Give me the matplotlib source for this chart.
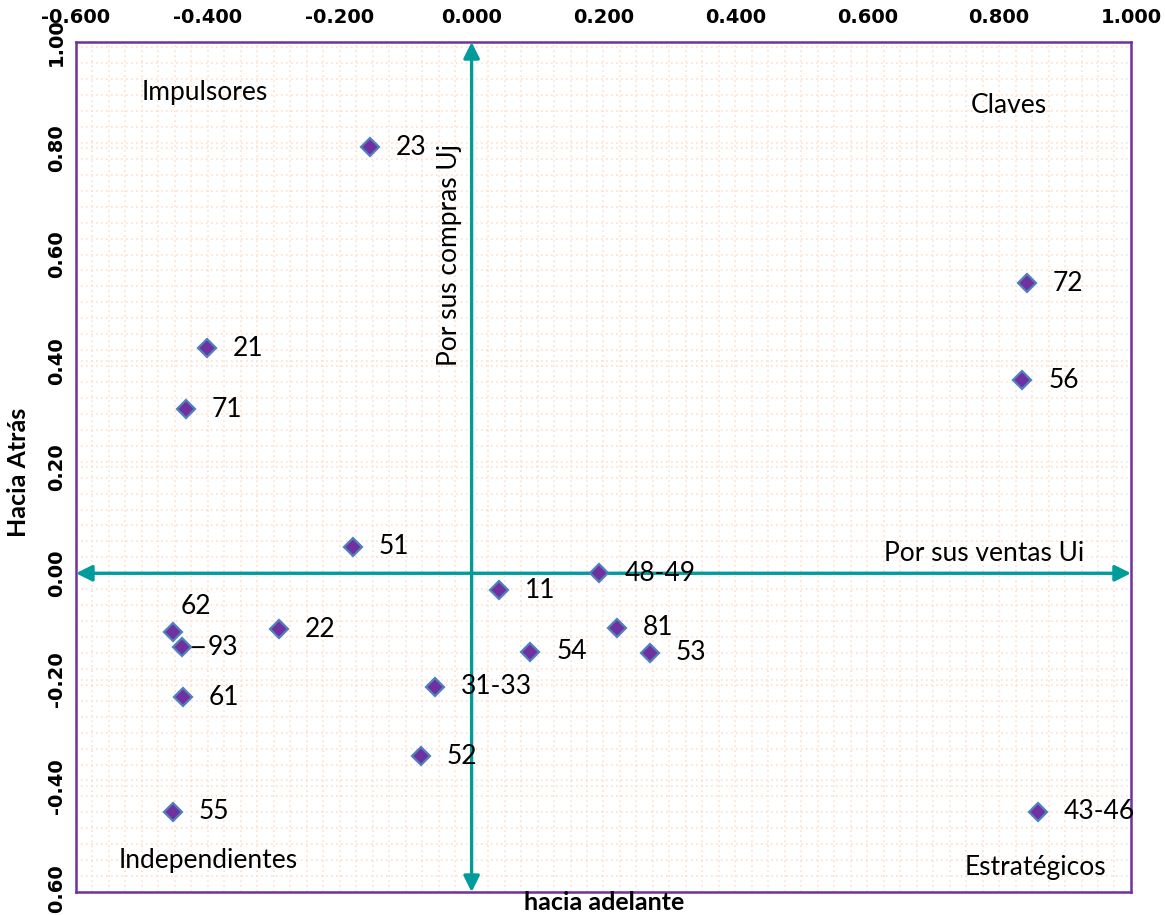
import numpy as np
import matplotlib.pyplot as plt
from matplotlib.ticker import MultipleLocator, FormatStrFormatter

# sectores: (impulso hacia adelante, impulso hacia atras)
sectores = ["23", "72", "56", "21", "71", "51", "48-49", "11", "62", "93",
            "22", "81", "54", "53", "31-33", "61", "52", "55", "43-46"]
x_vals = [-0.154, 0.842, 0.835, -0.401, -0.433, -0.180, 0.193, 0.042, -0.453, -0.439,
          -0.292, 0.220, 0.089, 0.270, -0.055, -0.438, -0.077, -0.453, 0.859]
y_vals = [0.802, 0.546, 0.363, 0.424, 0.309, 0.050, 0.000, -0.032, -0.110, -0.139,
          -0.105, -0.103, -0.148, -0.150, -0.214, -0.233, -0.344, -0.449, -0.449]
x_ticks = [-0.6, -0.4, -0.2, 0.0, 0.2, 0.4, 0.6, 0.8, 1.0]
y_ticks = [-0.6, -0.4, -0.2, 0.0, 0.2, 0.4, 0.6, 0.8, 1.0]

morado = '#7030A0'
azul = '#4F81BD'
teal = '#009C9C'
fuente = ['Lato', 'DejaVu Sans']
fs = 19

fig = plt.figure(figsize=(11.65, 9.15), dpi=100)
ax = fig.add_axes([0.0652, 0.0251, 0.9056, 0.929])
ax.set_xlim(-0.6, 1.0)
ax.set_ylim(-0.6, 1.0)

# fondo punteado
ax.xaxis.set_minor_locator(MultipleLocator(0.025))
ax.yaxis.set_minor_locator(MultipleLocator(0.03))
ax.grid(which='both', color='#FCE0CC', linestyle=(0, (1, 2)), linewidth=1.2)
ax.set_axisbelow(True)

for s in ax.spines.values():
    s.set_color(morado)
    s.set_linewidth(1.8)

ax.set_xticks(x_ticks)
ax.set_yticks(y_ticks)
ax.xaxis.set_major_formatter(FormatStrFormatter('%.3f'))
ax.yaxis.set_major_formatter(FormatStrFormatter('%.2f'))
ax.xaxis.tick_top()
ax.tick_params(which='both', length=0)
ax.tick_params(axis='x', pad=11)
ax.tick_params(axis='y', pad=7)
for t in ax.get_xticklabels():
    t.set_fontweight('bold')
    t.set_fontsize(14)
for t in ax.get_yticklabels():
    t.set_fontweight('bold')
    t.set_fontsize(14)
    t.set_rotation(90)
    t.set_va('center')

# ejes con flechas
ax.annotate('', xy=(1.0, 0), xytext=(-0.6, 0),
            arrowprops=dict(arrowstyle='<|-|>', color=teal, lw=2.4,
                            mutation_scale=24, shrinkA=0, shrinkB=0))
ax.annotate('', xy=(0, 1.0), xytext=(0, -0.6),
            arrowprops=dict(arrowstyle='<|-|>', color=teal, lw=2.4,
                            mutation_scale=24, shrinkA=0, shrinkB=0))

ax.plot(x_vals, y_vals, linestyle='none', marker='D', markersize=9.5,
        markerfacecolor=morado, markeredgecolor=azul, markeredgewidth=1.6, zorder=5)

for nom, xv, yv in zip(sectores, x_vals, y_vals):
    if nom == '62':
        ax.annotate(nom, (xv, yv), xytext=(8, 25), textcoords='offset pixels',
                    ha='left', va='center', fontsize=fs, family=fuente)
    elif nom == '93':
        ax.annotate(nom, (xv, yv), xytext=(26, 0), textcoords='offset pixels',
                    ha='left', va='center', fontsize=fs, family=fuente,
                    arrowprops=dict(arrowstyle='-', color='black', lw=1.4,
                                    shrinkA=1, shrinkB=6))
    else:
        ax.annotate(nom, (xv, yv), xytext=(26, 0), textcoords='offset pixels',
                    ha='left', va='center', fontsize=fs, family=fuente)

ax.text(-0.405, 0.905, 'Impulsores', ha='center', va='center', fontsize=fs, family=fuente)
ax.text(0.815, 0.880, 'Claves', ha='center', va='center', fontsize=fs, family=fuente)
ax.text(-0.40, -0.540, 'Independientes', ha='center', va='center', fontsize=fs, family=fuente)
ax.text(0.855, -0.553, 'Estratégicos', ha='center', va='center', fontsize=fs, family=fuente)
ax.text(0.778, 0.038, 'Por sus ventas Ui', ha='center', va='center', fontsize=fs, family=fuente)
ax.text(-0.034, 0.600, 'Por sus compras Uj', ha='center', va='center', fontsize=fs,
        family=fuente, rotation=90)

fig.text(604 / 1165, 1 - 903 / 915, 'hacia adelante', ha='center', va='center',
         fontsize=18, fontweight='bold', family=fuente)
fig.text(19 / 1165, 1 - 472 / 915, 'Hacia Atrás', ha='center', va='center',
         fontsize=18, fontweight='bold', rotation=90, family=fuente)

plt.savefig('out.png', dpi=100)
